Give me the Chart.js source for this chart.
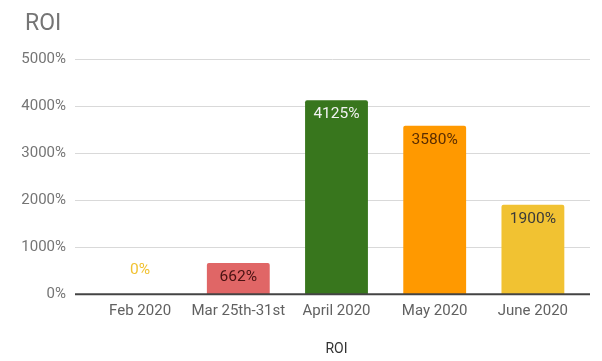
<!DOCTYPE html>
<html>
<head>
<meta charset="utf-8">
<script src="https://cdn.jsdelivr.net/npm/chart.js@4"></script>
<style>
    html, body { margin: 0; padding: 0; background: #fff; }
    #wrap { width: 602px; height: 361px; }
</style>
</head>
<body>
<div id="wrap"><canvas id="roiChart" width="602" height="361"></canvas></div>
<script>
// 数据
const categories = ['Feb 2020', 'Mar 25th-31st', 'April 2020', 'May 2020', 'June 2020'];
const roiValues = [0, 662, 4125, 3580, 1900];
const barColors = ['#f1c232', '#e06666', '#38761d', '#ff9900', '#f1c232'];
const labelColors = ['#f1c232', '#4a1212', '#f2f2f2', '#5a2d00', '#3a3a3a'];
const yTicks = [0, 1000, 2000, 3000, 4000, 5000];

const FONT = 'Roboto, "Noto Sans", sans-serif';

// 标题
const titlePlugin = {
    id: 'leftTitle',
    afterDraw(chart) {
        const ctx = chart.ctx;
        ctx.save();
        ctx.font = '23px ' + FONT;
        ctx.fillStyle = '#757575';
        ctx.textAlign = 'left';
        ctx.textBaseline = 'middle';
        ctx.fillText('ROI', 25, 24);
        ctx.restore();
    }
};

// 网格线 (左右各延伸一点)
const gridPlugin = {
    id: 'wideGrid',
    beforeDatasetsDraw(chart) {
        const { ctx, chartArea, scales } = chart;
        const y = scales.y;
        ctx.save();
        ctx.strokeStyle = '#d9d9d9';
        ctx.lineWidth = 1;
        y.ticks.forEach(t => {
            if (t.value === 0) return;
            const py = Math.round(y.getPixelForValue(t.value)) + 0.5;
            ctx.beginPath();
            ctx.moveTo(chartArea.left - 16, py);
            ctx.lineTo(chartArea.right + 8, py);
            ctx.stroke();
        });
        ctx.restore();
    },
    afterDatasetsDraw(chart) {
        const { ctx, chartArea, scales } = chart;
        const py = scales.y.getPixelForValue(0);
        ctx.save();
        ctx.strokeStyle = '#444444';
        ctx.lineWidth = 2;
        ctx.beginPath();
        ctx.moveTo(chartArea.left - 16, py);
        ctx.lineTo(chartArea.right + 8, py);
        ctx.stroke();
        ctx.restore();
    }
};

// 柱内数值标签
const valueLabelPlugin = {
    id: 'valueLabels',
    afterDatasetsDraw(chart) {
        const ctx = chart.ctx;
        const meta = chart.getDatasetMeta(0);
        ctx.save();
        ctx.font = '15.5px ' + FONT;
        ctx.textAlign = 'center';
        ctx.textBaseline = 'middle';
        meta.data.forEach((bar, i) => {
            const v = roiValues[i];
            ctx.fillStyle = labelColors[i];
            const ty = v === 0 ? bar.y - 24 : bar.y + 14;
            ctx.fillText(v + '%', bar.x, ty);
        });
        ctx.restore();
    }
};

const ctx = document.getElementById('roiChart').getContext('2d');
new Chart(ctx, {
    type: 'bar',
    data: {
        labels: categories,
        datasets: [{
            label: 'ROI',
            data: roiValues,
            backgroundColor: barColors,
            borderRadius: 2,
            borderSkipped: 'bottom',
            categoryPercentage: 1,
            barPercentage: 0.64
        }]
    },
    options: {
        responsive: false,
        animation: false,
        layout: {
            padding: { top: 59, right: 20, bottom: 1, left: 0 }
        },
        plugins: {
            legend: { display: false },
            title: { display: false },
            tooltip: { enabled: false }
        },
        scales: {
            x: {
                grid: { display: false, drawTicks: false },
                border: { display: false },
                ticks: {
                    padding: 8,
                    maxRotation: 0,
                    minRotation: 0,
                    autoSkip: false,
                    color: '#616161',
                    font: { family: FONT, size: 15 }
                },
                title: {
                    display: true,
                    text: 'ROI',
                    color: '#333333',
                    padding: { top: 13, bottom: 2 },
                    font: { family: FONT, size: 14 }
                }
            },
            y: {
                min: 0,
                max: 5000,
                afterBuildTicks(scale) {
                    scale.ticks = yTicks.map(v => ({ value: v }));
                },
                afterFit(scale) {
                    scale.width = 91;
                },
                grid: { display: false, drawTicks: false },
                border: { display: false },
                ticks: {
                    padding: 25,
                    color: '#757575',
                    font: { family: FONT, size: 15 },
                    callback: v => v + '%'
                }
            }
        }
    },
    plugins: [gridPlugin, valueLabelPlugin, titlePlugin]
});
</script>
</body>
</html>
